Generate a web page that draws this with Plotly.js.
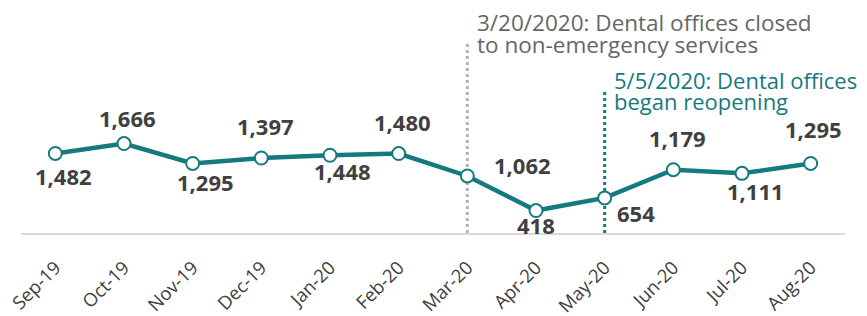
<!DOCTYPE html>
<html>
<head>
<meta charset="utf-8">
<script src="https://cdn.plot.ly/plotly-3.0.1.min.js"></script>
<style>html,body{margin:0;padding:0;background:#fff;}#chart{width:867px;height:316px;}</style>
</head>
<body>
<div id="chart"></div>
<script>
const months = ["Sep-19","Oct-19","Nov-19","Dec-19","Jan-20","Feb-20","Mar-20","Apr-20","May-20","Jun-20","Jul-20","Aug-20"];
const visits = [1482,1666,1295,1397,1448,1480,1062,418,654,1179,1111,1295];
const labelDx = [8,3,13,4,12,4,55,0,31,4,13,3];
const labelDy = [-23,26,-19,32,-16,32,11,-14,-15,32,-18,34];
const closedMonth = "Mar-20";
const reopenMonth = "May-20";
const closedNote = ["3/20/2020: Dental offices closed","to non-emergency services"];
const reopenNote = ["5/5/2020: Dental offices","began reopening"];

const teal = "#157A80";
const trace = {
  x: months, y: visits, type: "scatter", mode: "lines+markers",
  line: {color: teal, width: 4.5},
  marker: {size: 13, color: "#ffffff", line: {color: teal, width: 2}},
  hoverinfo: "skip"
};

const annotations = months.map((m, i) => ({
  x: m, y: visits[i], xref: "x", yref: "y",
  text: visits[i].toLocaleString("en-US"),
  showarrow: false, xshift: labelDx[i], yshift: labelDy[i],
  font: {family: "Open Sans", size: 22, color: "#404040", weight: 700}
}));
closedNote.forEach((t, k) => annotations.push({
  x: months.indexOf(closedMonth), y: 1, xref: "x", yref: "paper",
  text: t, showarrow: false, xanchor: "left", yanchor: "top",
  xshift: 8, yshift: 15 - k * 22,
  font: {family: "Open Sans", size: 22.5, color: "#666666"}
}));
reopenNote.forEach((t, k) => annotations.push({
  x: months.indexOf(reopenMonth), y: 1, xref: "x", yref: "paper",
  text: t, showarrow: false, xanchor: "left", yanchor: "top",
  xshift: 7, yshift: -43 - k * 21,
  font: {family: "Open Sans", size: 22, color: teal}
}));

const layout = {
  width: 867, height: 316,
  margin: {l: 21, r: 22, t: 20, b: 83},
  paper_bgcolor: "#ffffff", plot_bgcolor: "#ffffff",
  showlegend: false,
  xaxis: {
    type: "category", range: [-0.5, 11.5], fixedrange: true,
    showgrid: false, zeroline: false, showline: true,
    linecolor: "#d9d9d9", linewidth: 1.5, ticks: "",
    tickangle: -45, ticklabelstandoff: 15,
    tickfont: {family: "Open Sans", size: 18.5, color: "#404040"}
  },
  yaxis: {range: [0, 3967], visible: false, fixedrange: true},
  shapes: [
    {type: "line", xref: "x", yref: "y", layer: "below",
     x0: months.indexOf(closedMonth), x1: months.indexOf(closedMonth), y0: 0, y1: 3560,
     line: {color: "#b3b3b3", width: 3, dash: "3px,3px"}},
    {type: "line", xref: "x", yref: "y", layer: "below",
     x0: months.indexOf(reopenMonth), x1: months.indexOf(reopenMonth), y0: 0, y1: 2670,
     line: {color: teal, width: 3, dash: "3px,3px"}}
  ],
  annotations: annotations
};
Plotly.newPlot("chart", [trace], layout, {displayModeBar: false, staticPlot: true});
</script>
</body>
</html>
